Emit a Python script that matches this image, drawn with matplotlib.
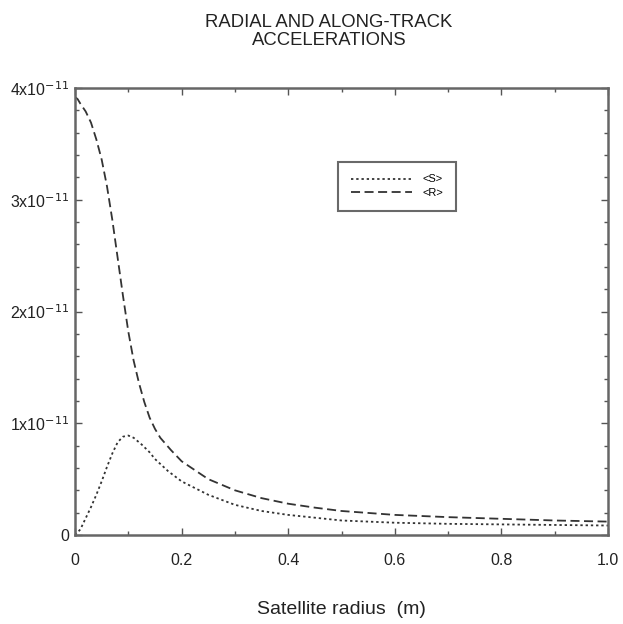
import numpy as np
import matplotlib.pyplot as plt
from matplotlib.ticker import MultipleLocator

plt.rcParams['font.family'] = ['Liberation Sans', 'DejaVu Sans']

# values, y in units of 1e-11
r_x = [0.0, 0.005, 0.01, 0.02, 0.03, 0.04, 0.05, 0.06, 0.07, 0.08, 0.09, 0.10,
       0.11, 0.12, 0.13, 0.14, 0.15, 0.16, 0.18, 0.20, 0.25, 0.30, 0.35, 0.40,
       0.45, 0.50, 0.60, 0.70, 0.80, 0.90, 1.00]
r_y = [3.92, 3.90, 3.86, 3.79, 3.69, 3.54, 3.36, 3.12, 2.82, 2.48, 2.14, 1.82,
       1.56, 1.36, 1.19, 1.05, 0.95, 0.87, 0.76, 0.66, 0.50, 0.40, 0.33, 0.28,
       0.245, 0.215, 0.18, 0.16, 0.145, 0.13, 0.12]

s_x = [0.0, 0.01, 0.02, 0.03, 0.04, 0.05, 0.06, 0.07, 0.08, 0.09, 0.10, 0.11,
       0.125, 0.14, 0.15, 0.175, 0.20, 0.25, 0.30, 0.35, 0.40, 0.45, 0.50,
       0.60, 0.70, 0.80, 0.90, 1.00]
s_y = [0.0, 0.05, 0.15, 0.25, 0.36, 0.48, 0.61, 0.73, 0.83, 0.88, 0.89, 0.87,
       0.81, 0.74, 0.68, 0.57, 0.48, 0.36, 0.27, 0.215, 0.18, 0.155, 0.13,
       0.11, 0.10, 0.095, 0.09, 0.085]

y_ticks = [0, 1, 2, 3, 4]
y_labels = ['0', r'1x10$^{-11}$', r'2x10$^{-11}$', r'3x10$^{-11}$', r'4x10$^{-11}$']
x_ticks = [0.0, 0.2, 0.4, 0.6, 0.8, 1.0]
x_labels = ['0', '0.2', '0.4', '0.6', '0.8', '1.0']

fig = plt.figure(figsize=(6.23, 6.24), dpi=100)
ax = fig.add_axes([0.1204, 0.1426, 0.8556, 0.7164])

ax.plot(s_x, s_y, color='#333333', lw=1.3, linestyle=(0, (1.3, 1.6)), label='<S>')
ax.plot(r_x, r_y, color='#333333', lw=1.3, linestyle=(0, (5, 2.5)), label='<R>')

ax.set_xlim(0, 1.0)
ax.set_ylim(0, 4.0)
ax.set_xticks(x_ticks)
ax.set_xticklabels(x_labels)
ax.set_yticks(y_ticks)
ax.set_yticklabels(y_labels)
ax.xaxis.set_minor_locator(MultipleLocator(0.1))
ax.yaxis.set_minor_locator(MultipleLocator(0.2))
ax.tick_params(which='both', direction='in', top=True, right=True, colors='#555555',
               labelcolor='#222222', labelsize=11.5, width=1)
ax.tick_params(which='major', length=5)
ax.tick_params(axis='x', which='major', pad=13)
ax.tick_params(axis='y', which='major', pad=4)
ax.tick_params(which='minor', length=3)
for sp in ax.spines.values():
    sp.set_linewidth(1.8)
    sp.set_color('#666666')

ax.set_xlabel('Satellite radius  (m)', fontsize=14, color='#222222', labelpad=24)

fig.text(0.528, 0.978, 'RADIAL AND ALONG-TRACK\nACCELERATIONS', ha='center', va='top',
         fontsize=13.3, color='#222222', linespacing=1.1)

leg = ax.legend(loc='upper left', bbox_to_anchor=(0.494, 0.834), fontsize=8,
                handlelength=5.5, frameon=True, fancybox=False, edgecolor='#444444',
                borderpad=1.1, labelspacing=0.35, handletextpad=1.0, borderaxespad=0)
leg.get_frame().set_linewidth(1.5)

fig.savefig('out.png', dpi=100)
